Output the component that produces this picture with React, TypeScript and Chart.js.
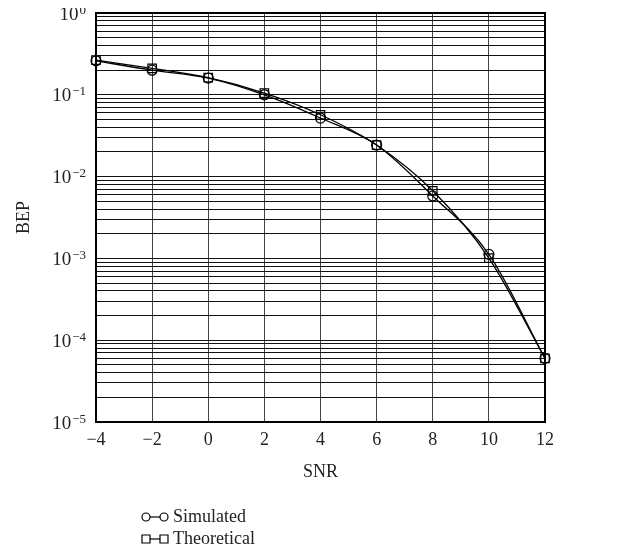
import React, { useEffect, useRef } from "react";
import { Chart, registerables } from "chart.js";

Chart.register(...registerables);

const snr = [-4, -2, 0, 2, 4, 6, 8, 10, 12];
const simulated = [0.26, 0.2, 0.16, 0.1, 0.052, 0.0243, 0.0058, 0.00112, 0.00006];
const theoretical = [0.265, 0.21, 0.162, 0.105, 0.057, 0.0243, 0.0067, 0.00101, 0.00006];
const seriesNames = ["Simulated", "Theoretical"];
const xTicks = [-4, -2, 0, 2, 4, 6, 8, 10, 12];
const yDecades = [-5, -4, -3, -2, -1, 0];

const FONT = "'Liberation Serif', 'DejaVu Serif', serif";
const TEXT = "#222";

// Draws the decade tick labels of the y scale as 10 with a raised exponent
const yLabelPlugin = {
  id: "yDecadeLabels",
  afterDraw(chart: any) {
    const ctx = chart.ctx;
    const ys = chart.scales.y;
    const right = ys.right - 10;
    ctx.save();
    ctx.fillStyle = TEXT;
    ctx.textAlign = "right";
    ctx.textBaseline = "alphabetic";
    yDecades.forEach((d) => {
      const py = ys.getPixelForValue(Math.pow(10, d));
      const exp = d < 0 ? "\u2212" + Math.abs(d) : String(d);
      ctx.font = "13px " + FONT;
      const ew = ctx.measureText(exp).width;
      ctx.fillText(exp, right, py + 0.5);
      ctx.font = "19px " + FONT;
      ctx.fillText("10", right - ew - 1, py + 6.5);
    });
    ctx.restore();
  },
};

const legendPlugin = {
  id: "customLegend",
  afterDraw(chart: any) {
    const ctx = chart.ctx;
    ctx.save();
    const x0 = 138;
    const ys = [517, 539];
    chart.data.datasets.forEach((ds: any, i: number) => {
      const y = ys[i];
      ctx.strokeStyle = "#000";
      ctx.lineWidth = 1.2;
      ctx.beginPath();
      ctx.moveTo(x0, y);
      ctx.lineTo(x0 + 18, y);
      ctx.stroke();
      [x0, x0 + 18].forEach((px) => {
        ctx.beginPath();
        if (ds.pointStyle === "circle") {
          ctx.arc(px, y, 4, 0, Math.PI * 2);
        } else {
          ctx.rect(px - 4, y - 4, 8, 8);
        }
        ctx.fillStyle = "#fff";
        ctx.fill();
        ctx.stroke();
      });
      ctx.fillStyle = TEXT;
      ctx.font = "18px " + FONT;
      ctx.textBaseline = "middle";
      ctx.textAlign = "left";
      ctx.fillText(seriesNames[i], x0 + 27, y);
    });
    ctx.restore();
  },
};

export default function App() {
  const ref = useRef<HTMLCanvasElement>(null);
  useEffect(() => {
    if (!ref.current) return;
    const chart = new Chart(ref.current, {
      type: "line",
      data: {
        labels: snr,
        datasets: [
          {
            label: seriesNames[0],
            data: snr.map((x, i) => ({ x, y: simulated[i] })),
            borderColor: "#000",
            borderWidth: 1.3,
            pointStyle: "circle",
            pointRadius: 5,
            pointBackgroundColor: "rgba(0,0,0,0)",
            pointBorderColor: "#000",
            pointBorderWidth: 1.2,
            cubicInterpolationMode: "monotone",
            clip: false,
          },
          {
            label: seriesNames[1],
            data: snr.map((x, i) => ({ x, y: theoretical[i] })),
            borderColor: "#000",
            borderWidth: 1.3,
            pointStyle: "rect",
            pointRadius: 6,
            pointBackgroundColor: "rgba(0,0,0,0)",
            pointBorderColor: "#000",
            pointBorderWidth: 1.2,
            cubicInterpolationMode: "monotone",
            clip: false,
          },
        ],
      },
      options: {
        animation: false,
        responsive: true,
        maintainAspectRatio: false,
        layout: { padding: { left: 0, right: 90, top: 13, bottom: 69 } },
        plugins: { legend: { display: false }, tooltip: { enabled: false } },
        scales: {
          x: {
            type: "linear",
            min: -4,
            max: 12,
            afterBuildTicks: (s: any) => {
              s.ticks = xTicks.map((v) => ({ value: v }));
            },
            afterFit: (s: any) => {
              s.height = 61;
              s.paddingLeft = 0;
              s.paddingRight = 0;
            },
            ticks: {
              color: TEXT,
              font: { family: FONT, size: 18 },
              padding: 7,
              maxRotation: 0,
              callback: (v: any) => (Number(v) < 0 ? "\u2212" + Math.abs(Number(v)) : String(v)),
            },
            grid: { color: "#444", lineWidth: 1, drawTicks: false },
            border: { color: "#000", width: 2 },
            title: {
              display: true,
              text: "SNR",
              color: TEXT,
              font: { family: FONT, size: 18 },
              padding: { top: 8, bottom: 0 },
            },
          },
          y: {
            type: "logarithmic",
            min: 1e-5,
            max: 1,
            afterBuildTicks: (s: any) => {
              const t: any[] = [];
              yDecades.forEach((d) => {
                for (let m = 1; m <= 9; m++) {
                  if (d === 0 && m > 1) break;
                  t.push({ value: m * Math.pow(10, d) });
                }
              });
              s.ticks = t;
            },
            afterFit: (s: any) => {
              s.width = 88;
              s.paddingTop = 0;
              s.paddingBottom = 0;
            },
            ticks: {
              color: TEXT,
              font: { family: FONT, size: 17 },
              padding: 9,
              autoSkip: false,
              callback: () => "",
            },
            grid: { color: "#111", lineWidth: 1, drawTicks: false },
            border: { color: "#000", width: 2 },
            title: {
              display: true,
              text: "BEP",
              color: TEXT,
              font: { family: FONT, size: 18 },
              padding: { top: 5, bottom: 4 },
            },
          },
          x2: {
            type: "linear",
            position: "top",
            display: true,
            min: -4,
            max: 12,
            ticks: { display: false },
            grid: { display: false },
            border: { color: "#000", width: 2 },
            afterFit: (s: any) => { s.height = 0; s.paddingLeft = 0; s.paddingRight = 0; },
          },
          y2: {
            type: "logarithmic",
            position: "right",
            display: true,
            min: 1e-5,
            max: 1,
            ticks: { display: false },
            grid: { display: false },
            border: { color: "#000", width: 2 },
            afterFit: (s: any) => { s.width = 0; s.paddingTop = 0; s.paddingBottom = 0; },
          },
        },
      } as any,
      plugins: [yLabelPlugin, legendPlugin],
    });
    return () => chart.destroy();
  }, []);
  return (
    <div style={{ width: 627, height: 552, marginTop: -8, position: "relative" }}>
      <canvas ref={ref} />
    </div>
  );
}
